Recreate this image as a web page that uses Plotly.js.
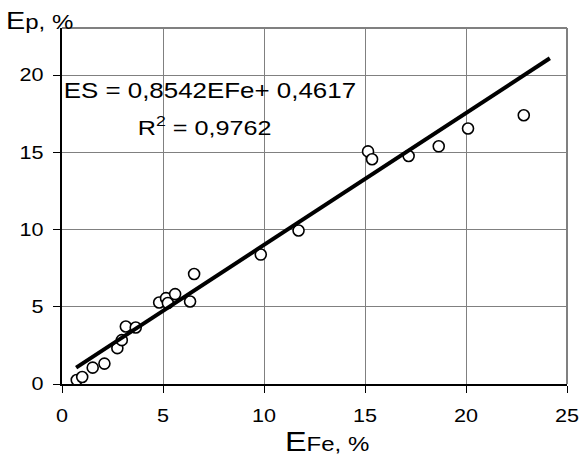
<!DOCTYPE html>
<html>
<head>
<meta charset="utf-8">
<script src="https://cdn.plot.ly/plotly-3.0.1.min.js"></script>
<style>
html,body{margin:0;padding:0;background:#fff;}
#chart{width:582px;height:456px;}
</style>
</head>
<body>
<div id="chart"></div>
<script>
// Data
var xFe = [0.73, 1.0, 1.52, 2.1, 2.74, 2.96, 3.16, 3.65, 4.81, 5.15, 5.24, 5.6, 6.34, 6.54, 9.84, 11.71, 15.15, 15.35, 17.16, 18.65, 20.1, 22.86];
var yP  = [0.26, 0.45, 1.06, 1.32, 2.32, 2.84, 3.72, 3.66, 5.28, 5.56, 5.24, 5.82, 5.34, 7.12, 8.38, 9.94, 15.06, 14.55, 14.76, 15.39, 16.54, 17.4];

// Linear trend line (from the equation shown on the chart)
var trendSlope = 0.8542;
var trendIntercept = 0.4617;
var trendX = [0.7, 24.15];
var trendY = trendX.map(function(x){ return trendSlope * x + trendIntercept; });

var xTicks = [0, 5, 10, 15, 20, 25];
var yTicks = [0, 5, 10, 15, 20];

var eqText = 'ES = 0,8542EFe+ 0,4617';
var r2Text = 'R<sup>2</sup> = 0,9762';
var xTitle = 'E<span style="font-size:20px">Fe, %</span>';
var yTitle = 'E<span style="font-size:20px">p, %</span>';

var FONT = 'Liberation Sans, Arial, sans-serif';

var data = [
  {
    type: 'scatter', mode: 'markers', x: xFe, y: yP,
    marker: {symbol: 'circle', size: 11, color: '#ffffff', line: {color: '#000000', width: 1.6}},
    hoverinfo: 'skip', showlegend: false
  },
  {
    type: 'scatter', mode: 'lines', x: trendX, y: trendY,
    line: {color: '#000000', width: 4},
    hoverinfo: 'skip', showlegend: false
  }
];

var layout = {
  width: 582, height: 456,
  margin: {l: 62, r: 15, t: 28, b: 72, pad: 0},
  paper_bgcolor: '#ffffff', plot_bgcolor: '#ffffff',
  font: {family: FONT, color: '#000000', size: 18},
  showlegend: false,
  xaxis: {
    range: [0, 25], tickvals: xTicks, ticktext: xTicks.map(String),
    showgrid: true, gridcolor: '#808080', gridwidth: 1,
    zeroline: false, showline: true, linecolor: '#000000', linewidth: 2,
    ticks: 'outside', ticklen: 7, tickwidth: 1, tickcolor: '#000000',
    ticklabelstandoff: 7,
    tickfont: {family: FONT, size: 18, color: '#000000'}
  },
  yaxis: {
    range: [0, 23.05], tickvals: yTicks, ticktext: yTicks.map(String),
    showgrid: true, gridcolor: '#808080', gridwidth: 1,
    zeroline: false, showline: true, linecolor: '#000000', linewidth: 2,
    ticks: 'outside', ticklen: 7, tickwidth: 1, tickcolor: '#000000',
    ticklabelstandoff: 6,
    tickfont: {family: FONT, size: 18, color: '#000000'}
  },
  shapes: [
    {type: 'line', xref: 'paper', yref: 'paper', x0: 0, x1: 1, y0: 1, y1: 1, line: {color: '#808080', width: 2}},
    {type: 'line', xref: 'paper', yref: 'paper', x0: 1, x1: 1, y0: 0, y1: 1, line: {color: '#808080', width: 2}}
  ],
  annotations: [
    {text: eqText, xref: 'x', yref: 'y', x: 7.35, y: 19.0, xanchor: 'center', yanchor: 'middle', showarrow: false, font: {family: FONT, size: 21.6, color: '#000'}},
    {text: r2Text, xref: 'x', yref: 'y', x: 7.1, y: 16.68, xanchor: 'center', yanchor: 'middle', showarrow: false, font: {family: FONT, size: 21, color: '#000'}},
    {text: xTitle, xref: 'paper', yref: 'paper', x: (327 - 62) / 505, y: -0.163, xanchor: 'center', yanchor: 'middle', showarrow: false, font: {family: FONT, size: 27, color: '#000'}},
    {text: yTitle, xref: 'paper', yref: 'paper', x: (4 - 62) / 505, y: 1.02, xanchor: 'left', yanchor: 'middle', align: 'left', showarrow: false, font: {family: FONT, size: 24, color: '#000'}}
  ]
};

Plotly.newPlot('chart', data, layout, {staticPlot: true, displayModeBar: false}).then(function(gd){
  // Text in the reference is drawn horizontally wider; widen glyphs about their anchor.
  var S = 1.2;
  gd.querySelectorAll('svg text').forEach(function(t){
    var b;
    try { b = t.getBBox(); } catch(e) { return; }
    if (!b || !b.width) return;
    var anchor = t.getAttribute('text-anchor') || 'start';
    var cx = anchor === 'middle' ? b.x + b.width / 2 : (anchor === 'end' ? b.x + b.width : b.x);
    var tr = t.getAttribute('transform') || '';
    t.setAttribute('transform', tr + ' translate(' + cx + ',0) scale(' + S + ',1) translate(' + (-cx) + ',0)');
  });
});
</script>
</body>
</html>
